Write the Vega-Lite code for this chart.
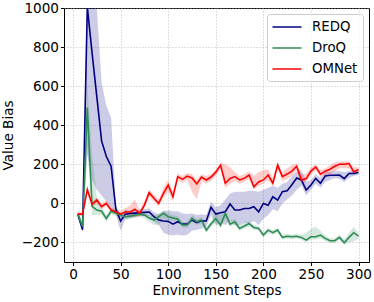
{
  "$schema": "https://vega.github.io/schema/vega-lite/v6.json",
  "autosize": "none",
  "width": 305,
  "height": 254,
  "padding": {"left": 64, "top": 8, "right": 5, "bottom": 40},
  "config": {
    "font": "DejaVu Sans",
    "view": {"stroke": "#000000", "strokeWidth": 1},
    "axis": {
      "domain": false,
      "tickColor": "#000000",
      "tickSize": 3.5,
      "labelFontSize": 13.6,
      "labelColor": "#000000",
      "titleFontSize": 13.6,
      "titleFontWeight": "normal",
      "titleColor": "#000000",
      "gridColor": "#b0b0b0",
      "gridDash": [1, 2],
      "gridOpacity": 0.8
    }
  },
  "data": {"values": [
    {"s":5,"m":"REDQ","v":-55,"lo":-75,"hi":-40},
    {"s":10,"m":"REDQ","v":-135,"lo":-150,"hi":-100},
    {"s":15,"m":"REDQ","v":1005,"lo":250,"hi":1150},
    {"s":20,"m":"REDQ","v":770,"lo":120,"hi":1100},
    {"s":25,"m":"REDQ","v":545,"lo":70,"hi":1000},
    {"s":30,"m":"REDQ","v":320,"lo":40,"hi":620},
    {"s":35,"m":"REDQ","v":240,"lo":10,"hi":500},
    {"s":40,"m":"REDQ","v":190,"lo":-20,"hi":440},
    {"s":45,"m":"REDQ","v":-30,"lo":-60,"hi":-10},
    {"s":50,"m":"REDQ","v":-90,"lo":-140,"hi":-60},
    {"s":55,"m":"REDQ","v":-55,"lo":-80,"hi":-35},
    {"s":60,"m":"REDQ","v":-52,"lo":-75,"hi":-35},
    {"s":65,"m":"REDQ","v":-50,"lo":-70,"hi":-35},
    {"s":70,"m":"REDQ","v":-48,"lo":-65,"hi":-30},
    {"s":75,"m":"REDQ","v":-46,"lo":-65,"hi":-30},
    {"s":80,"m":"REDQ","v":-44,"lo":-65,"hi":-25},
    {"s":85,"m":"REDQ","v":-68,"lo":-95,"hi":-45},
    {"s":90,"m":"REDQ","v":-85,"lo":-110,"hi":-55},
    {"s":95,"m":"REDQ","v":-90,"lo":-150,"hi":-40},
    {"s":100,"m":"REDQ","v":-92,"lo":-160,"hi":-35},
    {"s":105,"m":"REDQ","v":-106,"lo":-165,"hi":-40},
    {"s":110,"m":"REDQ","v":-94,"lo":-160,"hi":-40},
    {"s":115,"m":"REDQ","v":-106,"lo":-165,"hi":-50},
    {"s":120,"m":"REDQ","v":-106,"lo":-160,"hi":-55},
    {"s":125,"m":"REDQ","v":-85,"lo":-140,"hi":-50},
    {"s":130,"m":"REDQ","v":-99,"lo":-135,"hi":-60},
    {"s":135,"m":"REDQ","v":-89,"lo":-130,"hi":-55},
    {"s":140,"m":"REDQ","v":-90,"lo":-120,"hi":-60},
    {"s":145,"m":"REDQ","v":-20,"lo":-60,"hi":10},
    {"s":150,"m":"REDQ","v":-55,"lo":-110,"hi":-20},
    {"s":155,"m":"REDQ","v":-48,"lo":-100,"hi":-10},
    {"s":160,"m":"REDQ","v":-43,"lo":-110,"hi":20},
    {"s":165,"m":"REDQ","v":-3,"lo":-90,"hi":50},
    {"s":170,"m":"REDQ","v":-34,"lo":-110,"hi":60},
    {"s":175,"m":"REDQ","v":-34,"lo":-110,"hi":60},
    {"s":180,"m":"REDQ","v":-26,"lo":-100,"hi":60},
    {"s":185,"m":"REDQ","v":-26,"lo":-100,"hi":65},
    {"s":190,"m":"REDQ","v":-17,"lo":-90,"hi":65},
    {"s":195,"m":"REDQ","v":-43,"lo":-110,"hi":60},
    {"s":200,"m":"REDQ","v":0,"lo":-80,"hi":70},
    {"s":205,"m":"REDQ","v":-9,"lo":-60,"hi":80},
    {"s":210,"m":"REDQ","v":34,"lo":-30,"hi":90},
    {"s":215,"m":"REDQ","v":17,"lo":-40,"hi":80},
    {"s":220,"m":"REDQ","v":60,"lo":0,"hi":100},
    {"s":225,"m":"REDQ","v":65,"lo":20,"hi":110},
    {"s":230,"m":"REDQ","v":95,"lo":40,"hi":140},
    {"s":235,"m":"REDQ","v":130,"lo":70,"hi":160},
    {"s":240,"m":"REDQ","v":120,"lo":90,"hi":170},
    {"s":245,"m":"REDQ","v":68,"lo":40,"hi":110},
    {"s":250,"m":"REDQ","v":94,"lo":70,"hi":120},
    {"s":255,"m":"REDQ","v":128,"lo":100,"hi":150},
    {"s":260,"m":"REDQ","v":103,"lo":80,"hi":130},
    {"s":265,"m":"REDQ","v":140,"lo":110,"hi":160},
    {"s":270,"m":"REDQ","v":144,"lo":120,"hi":160},
    {"s":275,"m":"REDQ","v":144,"lo":130,"hi":165},
    {"s":280,"m":"REDQ","v":145,"lo":125,"hi":165},
    {"s":285,"m":"REDQ","v":127,"lo":110,"hi":160},
    {"s":290,"m":"REDQ","v":153,"lo":130,"hi":165},
    {"s":295,"m":"REDQ","v":153,"lo":140,"hi":170},
    {"s":300,"m":"REDQ","v":158,"lo":145,"hi":170},
    {"s":5,"m":"DroQ","v":-55,"lo":-70,"hi":-40},
    {"s":10,"m":"DroQ","v":-120,"lo":-140,"hi":-100},
    {"s":15,"m":"DroQ","v":490,"lo":300,"hi":620},
    {"s":20,"m":"DroQ","v":-15,"lo":-60,"hi":250},
    {"s":25,"m":"DroQ","v":-34,"lo":-60,"hi":30},
    {"s":30,"m":"DroQ","v":-40,"lo":-60,"hi":-20},
    {"s":35,"m":"DroQ","v":-77,"lo":-95,"hi":-60},
    {"s":40,"m":"DroQ","v":-40,"lo":-55,"hi":-25},
    {"s":45,"m":"DroQ","v":-51,"lo":-65,"hi":-35},
    {"s":50,"m":"DroQ","v":-60,"lo":-75,"hi":-45},
    {"s":55,"m":"DroQ","v":-68,"lo":-85,"hi":-50},
    {"s":60,"m":"DroQ","v":-65,"lo":-80,"hi":-50},
    {"s":65,"m":"DroQ","v":-60,"lo":-75,"hi":-45},
    {"s":70,"m":"DroQ","v":-55,"lo":-70,"hi":-40},
    {"s":75,"m":"DroQ","v":-60,"lo":-75,"hi":-45},
    {"s":80,"m":"DroQ","v":-75,"lo":-95,"hi":-60},
    {"s":85,"m":"DroQ","v":-85,"lo":-110,"hi":-65},
    {"s":90,"m":"DroQ","v":-68,"lo":-110,"hi":-50},
    {"s":95,"m":"DroQ","v":-51,"lo":-80,"hi":-35},
    {"s":100,"m":"DroQ","v":-68,"lo":-85,"hi":-50},
    {"s":105,"m":"DroQ","v":-75,"lo":-90,"hi":-60},
    {"s":110,"m":"DroQ","v":-80,"lo":-95,"hi":-65},
    {"s":115,"m":"DroQ","v":-111,"lo":-125,"hi":-95},
    {"s":120,"m":"DroQ","v":-111,"lo":-125,"hi":-95},
    {"s":125,"m":"DroQ","v":-77,"lo":-95,"hi":-60},
    {"s":130,"m":"DroQ","v":-94,"lo":-110,"hi":-80},
    {"s":135,"m":"DroQ","v":-85,"lo":-100,"hi":-70},
    {"s":140,"m":"DroQ","v":-137,"lo":-150,"hi":-120},
    {"s":145,"m":"DroQ","v":-106,"lo":-120,"hi":-90},
    {"s":150,"m":"DroQ","v":-77,"lo":-100,"hi":-40},
    {"s":155,"m":"DroQ","v":-111,"lo":-130,"hi":-60},
    {"s":160,"m":"DroQ","v":-51,"lo":-80,"hi":-35},
    {"s":165,"m":"DroQ","v":-106,"lo":-120,"hi":-85},
    {"s":170,"m":"DroQ","v":-94,"lo":-110,"hi":-80},
    {"s":175,"m":"DroQ","v":-128,"lo":-140,"hi":-110},
    {"s":180,"m":"DroQ","v":-116,"lo":-130,"hi":-100},
    {"s":185,"m":"DroQ","v":-103,"lo":-120,"hi":-90},
    {"s":190,"m":"DroQ","v":-123,"lo":-135,"hi":-110},
    {"s":195,"m":"DroQ","v":-128,"lo":-140,"hi":-115},
    {"s":200,"m":"DroQ","v":-162,"lo":-175,"hi":-150},
    {"s":205,"m":"DroQ","v":-137,"lo":-150,"hi":-125},
    {"s":210,"m":"DroQ","v":-150,"lo":-162,"hi":-138},
    {"s":215,"m":"DroQ","v":-137,"lo":-150,"hi":-125},
    {"s":220,"m":"DroQ","v":-174,"lo":-185,"hi":-162},
    {"s":225,"m":"DroQ","v":-168,"lo":-180,"hi":-156},
    {"s":230,"m":"DroQ","v":-171,"lo":-183,"hi":-160},
    {"s":235,"m":"DroQ","v":-168,"lo":-180,"hi":-156},
    {"s":240,"m":"DroQ","v":-174,"lo":-186,"hi":-162},
    {"s":245,"m":"DroQ","v":-188,"lo":-200,"hi":-150},
    {"s":250,"m":"DroQ","v":-171,"lo":-185,"hi":-130},
    {"s":255,"m":"DroQ","v":-171,"lo":-185,"hi":-120},
    {"s":260,"m":"DroQ","v":-162,"lo":-180,"hi":-140},
    {"s":265,"m":"DroQ","v":-179,"lo":-192,"hi":-165},
    {"s":270,"m":"DroQ","v":-191,"lo":-203,"hi":-178},
    {"s":275,"m":"DroQ","v":-191,"lo":-203,"hi":-178},
    {"s":280,"m":"DroQ","v":-174,"lo":-188,"hi":-160},
    {"s":285,"m":"DroQ","v":-202,"lo":-212,"hi":-185},
    {"s":290,"m":"DroQ","v":-174,"lo":-200,"hi":-150},
    {"s":295,"m":"DroQ","v":-150,"lo":-195,"hi":-120},
    {"s":300,"m":"DroQ","v":-168,"lo":-180,"hi":-150},
    {"s":5,"m":"OMNet","v":-55,"lo":-65,"hi":-45},
    {"s":10,"m":"OMNet","v":-55,"lo":-65,"hi":-45},
    {"s":15,"m":"OMNet","v":70,"lo":50,"hi":90},
    {"s":20,"m":"OMNet","v":-5,"lo":-20,"hi":10},
    {"s":25,"m":"OMNet","v":17,"lo":0,"hi":30},
    {"s":30,"m":"OMNet","v":-17,"lo":-30,"hi":0},
    {"s":35,"m":"OMNet","v":0,"lo":-15,"hi":15},
    {"s":40,"m":"OMNet","v":-34,"lo":-45,"hi":-20},
    {"s":45,"m":"OMNet","v":-43,"lo":-55,"hi":-30},
    {"s":50,"m":"OMNet","v":-55,"lo":-70,"hi":-40},
    {"s":55,"m":"OMNet","v":-43,"lo":-60,"hi":-25},
    {"s":60,"m":"OMNet","v":-45,"lo":-70,"hi":-10},
    {"s":65,"m":"OMNet","v":-30,"lo":-70,"hi":20},
    {"s":70,"m":"OMNet","v":-51,"lo":-65,"hi":-35},
    {"s":75,"m":"OMNet","v":-9,"lo":-25,"hi":10},
    {"s":80,"m":"OMNet","v":55,"lo":35,"hi":70},
    {"s":85,"m":"OMNet","v":26,"lo":10,"hi":45},
    {"s":90,"m":"OMNet","v":0,"lo":-15,"hi":20},
    {"s":95,"m":"OMNet","v":51,"lo":30,"hi":80},
    {"s":100,"m":"OMNet","v":94,"lo":60,"hi":120},
    {"s":105,"m":"OMNet","v":34,"lo":10,"hi":60},
    {"s":110,"m":"OMNet","v":137,"lo":120,"hi":155},
    {"s":115,"m":"OMNet","v":123,"lo":105,"hi":140},
    {"s":120,"m":"OMNet","v":140,"lo":120,"hi":155},
    {"s":125,"m":"OMNet","v":130,"lo":60,"hi":150},
    {"s":130,"m":"OMNet","v":100,"lo":20,"hi":120},
    {"s":135,"m":"OMNet","v":135,"lo":115,"hi":150},
    {"s":140,"m":"OMNet","v":120,"lo":100,"hi":140},
    {"s":145,"m":"OMNet","v":135,"lo":115,"hi":150},
    {"s":150,"m":"OMNet","v":160,"lo":140,"hi":175},
    {"s":155,"m":"OMNet","v":196,"lo":175,"hi":205},
    {"s":160,"m":"OMNet","v":103,"lo":80,"hi":200},
    {"s":165,"m":"OMNet","v":128,"lo":100,"hi":185},
    {"s":170,"m":"OMNet","v":137,"lo":115,"hi":160},
    {"s":175,"m":"OMNet","v":120,"lo":100,"hi":140},
    {"s":180,"m":"OMNet","v":128,"lo":110,"hi":150},
    {"s":185,"m":"OMNet","v":145,"lo":125,"hi":165},
    {"s":190,"m":"OMNet","v":85,"lo":70,"hi":140},
    {"s":195,"m":"OMNet","v":110,"lo":90,"hi":160},
    {"s":200,"m":"OMNet","v":120,"lo":100,"hi":170},
    {"s":205,"m":"OMNet","v":145,"lo":120,"hi":175},
    {"s":210,"m":"OMNet","v":103,"lo":85,"hi":130},
    {"s":215,"m":"OMNet","v":196,"lo":175,"hi":210},
    {"s":220,"m":"OMNet","v":137,"lo":115,"hi":160},
    {"s":225,"m":"OMNet","v":150,"lo":125,"hi":180},
    {"s":230,"m":"OMNet","v":165,"lo":140,"hi":195},
    {"s":235,"m":"OMNet","v":190,"lo":165,"hi":205},
    {"s":240,"m":"OMNet","v":119,"lo":100,"hi":150},
    {"s":245,"m":"OMNet","v":127,"lo":110,"hi":150},
    {"s":250,"m":"OMNet","v":165,"lo":145,"hi":185},
    {"s":255,"m":"OMNet","v":187,"lo":170,"hi":200},
    {"s":260,"m":"OMNet","v":150,"lo":135,"hi":170},
    {"s":265,"m":"OMNet","v":165,"lo":145,"hi":180},
    {"s":270,"m":"OMNet","v":175,"lo":150,"hi":195},
    {"s":275,"m":"OMNet","v":190,"lo":165,"hi":210},
    {"s":280,"m":"OMNet","v":200,"lo":180,"hi":215},
    {"s":285,"m":"OMNet","v":200,"lo":180,"hi":215},
    {"s":290,"m":"OMNet","v":204,"lo":180,"hi":215},
    {"s":295,"m":"OMNet","v":161,"lo":145,"hi":185},
    {"s":300,"m":"OMNet","v":173,"lo":160,"hi":185}
  ]},
  "encoding": {
    "x": {"field": "s", "type": "quantitative",
      "scale": {"domain": [-9.5, 311], "nice": false, "zero": false},
      "axis": {"values": [0, 50, 100, 150, 200, 250, 300], "title": "Environment Steps", "labelPadding": 2, "titlePadding": 2, "labelFlush": false}},
    "color": {"field": "m", "type": "nominal",
      "scale": {"domain": ["REDQ", "DroQ", "OMNet"], "range": ["#000080", "#2e8b57", "#ff0000"]},
      "legend": {
        "title": null,
        "orient": "none",
        "legendX": 203,
        "legendY": 6,
        "padding": 5,
        "strokeColor": "#cccccc",
        "fillColor": "rgba(255,255,255,0.8)",
        "cornerRadius": 3,
        "symbolType": "M-2,0L2,0",
        "symbolSize": 210,
        "symbolOffset": 7,
        "symbolStrokeWidth": 1.5,
        "symbolOpacity": 1,
        "symbolFillColor": "transparent",
        "labelFontSize": 13.3,
        "labelColor": "#000000",
        "labelOffset": 17,
        "rowPadding": 6
      }
    }
  },
  "layer": [
    {
      "mark": {"type": "area", "opacity": 0.2, "clip": true, "interpolate": "linear"},
      "encoding": {
        "y": {"field": "lo", "type": "quantitative",
          "scale": {"domain": [-300, 1000], "nice": false, "zero": false},
          "axis": {"values": [-200, 0, 200, 400, 600, 800, 1000], "format": "d", "title": "Value Bias", "labelPadding": 2, "titlePadding": 6, "labelFlush": false}},
        "y2": {"field": "hi"}
      }
    },
    {
      "mark": {"type": "line", "strokeWidth": 1.6, "clip": true},
      "encoding": {
        "y": {"field": "v", "type": "quantitative"}
      }
    }
  ]
}
